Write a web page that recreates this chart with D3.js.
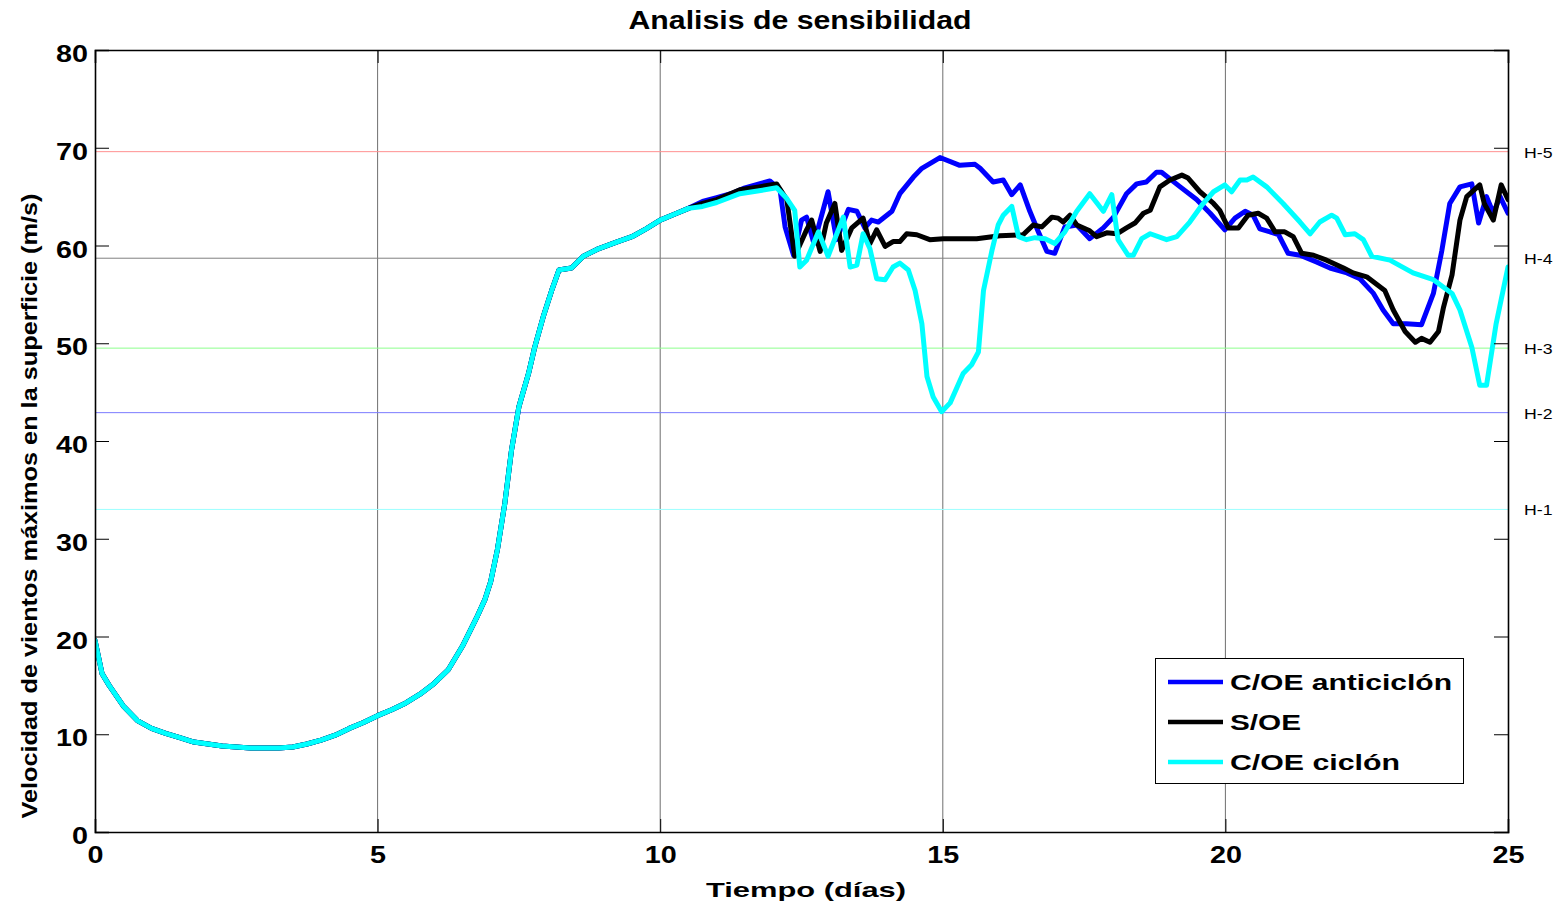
<!DOCTYPE html>
<html><head><meta charset="utf-8">
<script src="https://cdn.jsdelivr.net/npm/d3@7/dist/d3.min.js"></script>
<style>body{margin:0;background:#fff}svg{display:block}text{font-family:"Liberation Sans",Arial,sans-serif}</style>
</head><body>
<svg id="c" width="1563" height="903"></svg>
<script>
// ---- data ----
const xTicks = [0,5,10,15,20,25];
const yTicks = [0,10,20,30,40,50,60,70,80];
const seriesNames = ["C/OE anticiclón","S/OE","C/OE ciclón"];
const seriesColors = ["#0000ff","#000000","#00ffff"];
const hNames = ["H-5","H-4","H-3","H-2","H-1"];
const hValues = [69.6,58.7,49.5,42.9,33.0];
const hColors = ["#ff9090","#808080","#8cff8c","#7c7cff","#9cffff"];

// shared early part (days, m/s)
const commonT = [0,0.125,0.25,0.5,0.75,1,1.25,1.5,1.75,2,2.25,2.5,2.75,3,3.25,3.5,3.75,4,4.25,4.5,4.75,5,5.25,5.5,5.75,6,6.25,6.5,6.75,6.9,7.0,7.12,7.25,7.37,7.5,7.67,7.78,7.93,8.08,8.21,8.43,8.64,8.88,9.25,9.5,9.75,10,10.25,10.5];
const commonV = [19.6,16.2,15.0,12.9,11.4,10.6,10.1,9.65,9.2,9.0,8.8,8.7,8.6,8.6,8.6,8.7,9.0,9.4,9.9,10.6,11.2,11.9,12.5,13.2,14.1,15.2,16.6,19.0,21.9,23.8,25.6,28.9,33.6,39.1,43.5,46.9,49.6,52.7,55.4,57.5,57.7,58.9,59.6,60.4,60.9,61.7,62.6,63.2,63.8];

// C/OE anticiclón
const antiT = [10.75,11.0,11.25,11.5,11.75,11.94,12.12,12.21,12.36,12.5,12.59,12.72,12.97,13.12,13.33,13.48,13.62,13.74,13.86,14.1,14.24,14.48,14.63,14.95,15.3,15.57,15.66,15.89,16.07,16.22,16.37,16.54,16.69,16.84,16.98,17.16,17.37,17.6,17.84,18.02,18.25,18.43,18.6,18.78,18.87,19.2,19.49,19.73,19.99,20.17,20.35,20.49,20.61,20.79,20.94,21.11,21.32,21.62,21.85,22.15,22.38,22.62,22.79,22.97,23.2,23.47,23.68,23.83,23.97,24.15,24.36,24.48,24.62,24.74,24.86,25];
const antiV = [64.5,64.9,65.3,65.9,66.3,66.6,65.7,61.9,59.0,62.6,62.9,60.2,65.5,60.6,63.7,63.5,61.8,62.6,62.4,63.5,65.3,67.0,67.9,69.0,68.2,68.3,67.9,66.5,66.7,65.2,66.2,63.5,61.4,59.4,59.2,61.9,62.1,60.7,61.8,62.9,65.3,66.3,66.5,67.5,67.5,66.0,64.7,63.3,61.6,62.8,63.5,63.1,61.7,61.4,61.1,59.2,59.0,58.3,57.7,57.2,56.6,55.1,53.4,52.0,52.0,51.9,55.1,59.5,64.3,66.0,66.3,62.3,65.0,63.3,65.0,63.3];

// S/OE
const soeT = [10.75,11.0,11.41,11.75,12.06,12.24,12.38,12.59,12.68,12.83,12.94,13.09,13.21,13.39,13.59,13.71,13.83,13.98,14.12,14.24,14.36,14.54,14.77,15.01,15.6,16.01,16.42,16.6,16.75,16.93,17.04,17.13,17.25,17.37,17.6,17.72,17.9,18.08,18.25,18.4,18.55,18.67,18.84,19.02,19.23,19.34,19.55,19.79,19.9,20.05,20.23,20.4,20.58,20.73,20.88,21.05,21.2,21.35,21.56,21.79,22.09,22.26,22.5,22.82,22.97,23.18,23.36,23.47,23.62,23.77,23.86,24.01,24.15,24.27,24.5,24.58,24.74,24.88,25];
const soeV = [64.3,64.7,65.7,66.0,66.3,64.7,58.9,61.6,62.6,59.4,62.3,64.3,59.5,61.8,62.8,60.2,61.6,59.9,60.4,60.4,61.2,61.1,60.6,60.7,60.7,61.0,61.1,62.1,61.9,62.9,62.8,62.4,63.1,62.1,61.5,60.9,61.3,61.2,61.8,62.3,63.3,63.6,66.0,66.7,67.2,66.9,65.5,64.3,63.6,61.8,61.8,63.1,63.3,62.8,61.4,61.4,60.9,59.2,59.0,58.5,57.7,57.2,56.8,55.4,53.4,51.2,50.1,50.5,50.1,51.2,53.7,57.0,62.6,65.0,66.2,64.3,62.6,66.2,64.7];

// C/OE ciclón
const cycT = [10.75,11.0,11.41,11.75,12.06,12.24,12.38,12.47,12.59,12.8,12.97,13.24,13.36,13.48,13.59,13.71,13.83,13.98,14.12,14.24,14.39,14.51,14.63,14.72,14.83,14.98,15.13,15.36,15.51,15.63,15.72,15.87,15.98,16.07,16.22,16.34,16.48,16.63,16.81,16.98,17.16,17.37,17.6,17.84,17.99,18.1,18.28,18.37,18.52,18.67,18.96,19.14,19.37,19.58,19.79,19.99,20.11,20.26,20.38,20.49,20.73,21.02,21.32,21.5,21.67,21.88,21.97,22.12,22.29,22.44,22.59,22.91,23.32,23.68,24.01,24.15,24.36,24.5,24.62,24.79,25];
const cycV = [64.0,64.4,65.3,65.6,65.9,64.8,63.6,57.8,58.5,61.4,58.9,62.9,57.8,58.0,61.2,59.7,56.6,56.5,57.8,58.2,57.5,55.4,52.0,46.6,44.5,43.0,43.9,46.9,47.8,49.1,55.4,59.5,62.1,63.1,64.0,60.9,60.6,60.8,60.7,60.2,61.4,63.5,65.3,63.5,65.2,60.6,59.0,59.0,60.7,61.2,60.6,60.9,62.4,64.1,65.5,66.2,65.5,66.7,66.7,67.0,66.0,64.3,62.4,61.2,62.4,63.1,62.8,61.1,61.2,60.6,58.9,58.5,57.2,56.5,55.1,53.4,49.6,45.7,45.7,52.0,57.8];

// ---- drawing ----
const svg = d3.select("#c");
const L = 95, R = 1508, T = 50, B = 832;
const x = d3.scaleLinear().domain([0,25]).range([L,R]);
const y = d3.scaleLinear().domain([0,80]).range([B,T]);

// vertical grid
svg.append("g").selectAll("line").data(xTicks.slice(1,-1)).join("line")
  .attr("x1", d=>x(d)).attr("x2", d=>x(d)).attr("y1", T).attr("y2", B)
  .attr("stroke", "#4a4a4a").attr("stroke-width", 0.8);

// category reference lines
svg.append("g").selectAll("line").data(hValues).join("line")
  .attr("x1", L).attr("x2", R).attr("y1", d=>y(d)).attr("y2", d=>y(d))
  .attr("stroke", (d,i)=>hColors[i]).attr("stroke-width", 1);

svg.append("g").selectAll("text").data(hValues).join("text")
  .attr("transform", d=>`translate(1524,${y(d)+6}) scale(1.22,1)`)
  .attr("font-size", 14.5).attr("fill", "#000").text((d,i)=>hNames[i]);

// series
const mk = (tt, vv) => commonT.map((t,i)=>[t, commonV[i]]).concat(tt.map((t,i)=>[t, vv[i]]));
const series = [mk(antiT, antiV), mk(soeT, soeV), mk(cycT, cycV)];
const line = d3.line().x(d=>x(d[0])).y(d=>y(d[1]));
svg.append("defs").append("clipPath").attr("id","pc").append("rect")
  .attr("x", L).attr("y", T).attr("width", R-L).attr("height", B-T);
svg.append("g").attr("clip-path","url(#pc)").selectAll("path").data(series).join("path")
  .attr("d", line).attr("fill","none")
  .attr("stroke", (d,i)=>seriesColors[i]).attr("stroke-width", 5)
  .attr("stroke-linejoin","round").attr("stroke-linecap","round");

// axes
const fmt = d3.format("d");
const gB = svg.append("g").attr("transform",`translate(0,${B})`)
  .call(d3.axisBottom(x).tickValues(xTicks).tickSize(-13).tickFormat(fmt));
const gL = svg.append("g").attr("transform",`translate(${L},0)`)
  .call(d3.axisLeft(y).tickValues(yTicks).tickSize(-14).tickFormat(fmt));
const gT = svg.append("g").attr("transform",`translate(0,${T})`)
  .call(d3.axisTop(x).tickValues(xTicks).tickSize(-13).tickFormat(""));
const gR = svg.append("g").attr("transform",`translate(${R},0)`)
  .call(d3.axisRight(y).tickValues(yTicks).tickSize(-14).tickFormat(""));
[gB,gL,gT,gR].forEach(g=>{
  g.select(".domain").attr("stroke","#000").attr("stroke-width",1.6);
  g.selectAll(".tick line").attr("stroke","#000").attr("stroke-width",1);
});
gB.selectAll(".tick text").attr("font-size",23).attr("font-weight","bold")
  .attr("font-family",'"Liberation Sans",Arial,sans-serif').attr("fill","#000")
  .attr("y",15).attr("dy","0.71em").attr("transform","scale(1.25,1)");
gL.selectAll(".tick text").attr("font-size",23).attr("font-weight","bold")
  .attr("font-family",'"Liberation Sans",Arial,sans-serif').attr("fill","#000")
  .attr("x",-7/1.25).attr("dy","0.5em").attr("transform","scale(1.25,1)");
gB.selectAll(".tick text").attr("x",0);

// title and axis labels
svg.append("text").attr("x", 800).attr("y", 29).attr("text-anchor","middle")
  .attr("font-size",25).attr("font-weight","bold").attr("textLength",343)
  .attr("lengthAdjust","spacingAndGlyphs").text("Analisis de sensibilidad");
svg.append("text").attr("x", 806).attr("y", 897).attr("text-anchor","middle")
  .attr("font-size",21).attr("font-weight","bold").attr("textLength",200)
  .attr("lengthAdjust","spacingAndGlyphs").text("Tiempo (días)");
svg.append("text").attr("transform","translate(37,506) rotate(-90)").attr("text-anchor","middle")
  .attr("font-size",22).attr("font-weight","bold").attr("textLength",625)
  .attr("lengthAdjust","spacingAndGlyphs")
  .text("Velocidad de vientos máximos en la superficie (m/s)");

// legend
const lg = svg.append("g");
lg.append("rect").attr("x",1155.5).attr("y",658.5).attr("width",308).attr("height",125)
  .attr("fill","#fff").attr("stroke","#000").attr("stroke-width",1);
const legW = [222,71,170];
const lgi = lg.selectAll("g").data(seriesNames).join("g")
  .attr("transform",(d,i)=>`translate(0,${682+i*40})`);
lgi.append("line").attr("x1",1168).attr("x2",1223).attr("y1",0).attr("y2",0)
  .attr("stroke",(d,i)=>seriesColors[i]).attr("stroke-width",4.5);
lgi.append("text").attr("x",1230).attr("y",8).attr("font-size",22).attr("font-weight","bold")
  .attr("textLength",(d,i)=>legW[i]).attr("lengthAdjust","spacingAndGlyphs").text(d=>d);
</script>
</body></html>
